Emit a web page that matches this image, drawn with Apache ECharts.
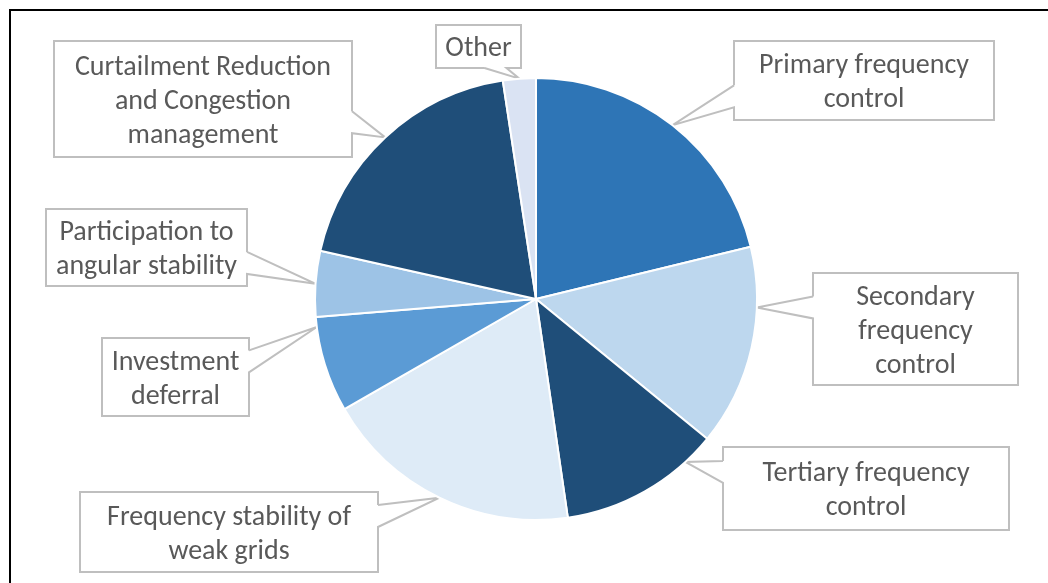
<!DOCTYPE html>
<html>
<head>
<meta charset="utf-8">
<script src="https://cdn.jsdelivr.net/npm/echarts@6/dist/echarts.min.js"></script>
<style>
  html, body { margin: 0; padding: 0; background: #ffffff; }
  #chart { width: 1048px; height: 583px; }
</style>
</head>
<body>
<div id="chart"></div>
<script>
// Services provided, in clockwise order from 12 o'clock
const categories = [
  'Primary frequency control',
  'Secondary frequency control',
  'Tertiary frequency control',
  'Frequency stability of weak grids',
  'Investment deferral',
  'Participation to angular stability',
  'Curtailment Reduction and Congestion management',
  'Other'
];
// Callout text, line by line
const calloutText = [
  'Primary frequency\ncontrol',
  'Secondary\nfrequency\ncontrol',
  'Tertiary frequency\ncontrol',
  'Frequency stability of\nweak grids',
  'Investment\ndeferral',
  'Participation to\nangular stability',
  'Curtailment Reduction\nand Congestion\nmanagement',
  'Other'
];
// Share of each service (%)
const shares = [21.2, 14.7, 11.8, 19.0, 7.0, 4.8, 19.1, 2.4];

// ---- styling and layout ----
const sliceColors = ['#2E75B6', '#BDD7EE', '#1F4E79', '#DEEBF7', '#5B9BD5', '#9DC3E6', '#1F4E79', '#DAE3F3'];
const FONT = 'Carlito, Calibri, "Liberation Sans Narrow", sans-serif';
const CX = 536, CY = 299, R = 221;
const LINE_H = 34;
const TEXT_DY = 2.5;
// callout boxes: centre x, centre y, width, height
const boxes = [
  [864, 80.5, 260, 79],
  [915.5, 329, 205, 112],
  [866, 488.5, 286, 83],
  [229, 532, 298, 80],
  [175.5, 377, 147, 78],
  [146.5, 247.5, 201, 77],
  [203, 99, 298, 116],
  [478.5, 46.5, 85, 43]
];
// pointer tip offset from the slice's mid angle (degrees)
const tipShift = [0, -10.6, -13, 0, 10, 0, 0, 0];
// pointer base: half width, and how far (share of the edge) its centre stays from a corner
const BASE_HALF = 11, BASE_INSET = 0.3;

const total = shares.reduce((a, b) => a + b, 0);
function clamp(v, lo, hi) { return Math.max(lo, Math.min(hi, v)); }

// Callout outline: pointer wedge from the box edge to the slice, then around the box
function calloutOutline(tip, box) {
  const [bx, by, w, h] = box;
  const l = bx - w / 2, r = bx + w / 2, t = by - h / 2, b = by + h / 2;
  if (tip[0] < l || tip[0] > r) {
    const c = clamp(tip[1], t + BASE_INSET * h, b - BASE_INSET * h);
    if (tip[0] < l) {
      const A = [l, c - BASE_HALF];
      return [A, tip, [l, c + BASE_HALF], [l, b], [r, b], [r, t], [l, t], A];
    }
    const A = [r, c - BASE_HALF];
    return [A, tip, [r, c + BASE_HALF], [r, b], [l, b], [l, t], [r, t], A];
  }
  const c = clamp(tip[0], l + BASE_INSET * w, r - BASE_INSET * w);
  if (tip[1] > b) {
    const A = [c - BASE_HALF, b];
    return [A, tip, [c + BASE_HALF, b], [r, b], [r, t], [l, t], [l, b], A];
  }
  const A = [c - BASE_HALF, t];
  return [A, tip, [c + BASE_HALF, t], [r, t], [r, b], [l, b], [l, t], A];
}

function calloutLayout(params) {
  const i = params.dataIndex;
  let start = 0;
  for (let k = 0; k < i; k++) start += shares[k];
  const mid = (start + shares[i] / 2) / total * 360 + tipShift[i];
  const a = mid * Math.PI / 180;
  const tip = [CX + R * Math.sin(a), CY - R * Math.cos(a)];
  const box = boxes[i];
  return {
    x: box[0], y: box[1] + TEXT_DY, align: 'center', verticalAlign: 'middle',
    labelLinePoints: calloutOutline(tip, box)
  };
}

const seriesData = categories.map((name, i) => ({
  name: name,
  value: shares[i],
  itemStyle: { color: sliceColors[i] }
}));

const chart = echarts.init(document.getElementById('chart'), null, { renderer: 'canvas' });
chart.setOption({
  animation: false,
  backgroundColor: '#ffffff',
  graphic: [{
    type: 'rect',
    shape: { x: 10, y: 10, width: 1200, height: 800 },
    style: { fill: null, stroke: '#000000', lineWidth: 2 },
    silent: true,
    z: 100
  }],
  series: [{
    type: 'pie',
    center: [CX, CY],
    radius: R,
    startAngle: 90,
    clockwise: true,
    avoidLabelOverlap: false,
    itemStyle: { borderColor: '#ffffff', borderWidth: 2 },
    label: {
      show: true,
      position: 'outside',
      formatter: p => calloutText[p.dataIndex],
      fontFamily: FONT,
      fontSize: 28,
      lineHeight: LINE_H,
      color: '#595959',
      align: 'center'
    },
    labelLine: {
      show: true,
      smooth: false,
      lineStyle: { color: '#BFBFBF', width: 2, join: 'miter' }
    },
    labelLayout: calloutLayout,
    emphasis: { disabled: true },
    data: seriesData
  }]
});
</script>
</body>
</html>
